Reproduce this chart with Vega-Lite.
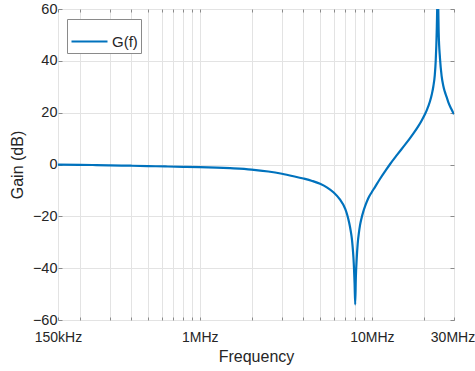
{
  "$schema": "https://vega.github.io/schema/vega-lite/v6.json",
  "autosize": "none",
  "width": 396,
  "height": 311,
  "padding": {"left": 58, "top": 9, "right": 21, "bottom": 51},
  "background": "white",
  "config": {
    "font": "Liberation Sans",
    "view": {"stroke": "#8a8a8a", "strokeWidth": 1},
    "axis": {"domain": false}
  },
  "data": {
    "values": [
      {"f": 150000, "g": -0.05, "series": "G(f)"},
      {"f": 200000, "g": -0.12, "series": "G(f)"},
      {"f": 250000, "g": -0.22, "series": "G(f)"},
      {"f": 300000, "g": -0.31, "series": "G(f)"},
      {"f": 400000, "g": -0.47, "series": "G(f)"},
      {"f": 500000, "g": -0.6, "series": "G(f)"},
      {"f": 630000, "g": -0.75, "series": "G(f)"},
      {"f": 800000, "g": -0.9, "series": "G(f)"},
      {"f": 1000000, "g": -1.0, "series": "G(f)"},
      {"f": 1250000, "g": -1.19, "series": "G(f)"},
      {"f": 1500000, "g": -1.43, "series": "G(f)"},
      {"f": 2000000, "g": -1.95, "series": "G(f)"},
      {"f": 2500000, "g": -2.7, "series": "G(f)"},
      {"f": 3000000, "g": -3.58, "series": "G(f)"},
      {"f": 3500000, "g": -4.52, "series": "G(f)"},
      {"f": 4000000, "g": -5.41, "series": "G(f)"},
      {"f": 4500000, "g": -6.34, "series": "G(f)"},
      {"f": 5000000, "g": -7.43, "series": "G(f)"},
      {"f": 5500000, "g": -8.9, "series": "G(f)"},
      {"f": 6000000, "g": -10.8, "series": "G(f)"},
      {"f": 6500000, "g": -13.4, "series": "G(f)"},
      {"f": 7000000, "g": -17.1, "series": "G(f)"},
      {"f": 7150000, "g": -18.9, "series": "G(f)"},
      {"f": 7293000, "g": -21.0, "series": "G(f)"},
      {"f": 7450000, "g": -23.8, "series": "G(f)"},
      {"f": 7562000, "g": -26.3, "series": "G(f)"},
      {"f": 7660000, "g": -29.0, "series": "G(f)"},
      {"f": 7735000, "g": -32.0, "series": "G(f)"},
      {"f": 7810000, "g": -35.8, "series": "G(f)"},
      {"f": 7871000, "g": -40.0, "series": "G(f)"},
      {"f": 7935000, "g": -46.0, "series": "G(f)"},
      {"f": 7998000, "g": -54.0, "series": "G(f)"},
      {"f": 8070000, "g": -43.5, "series": "G(f)"},
      {"f": 8160000, "g": -36.4, "series": "G(f)"},
      {"f": 8270000, "g": -30.5, "series": "G(f)"},
      {"f": 8400000, "g": -26.5, "series": "G(f)"},
      {"f": 8529000, "g": -23.5, "series": "G(f)"},
      {"f": 8700000, "g": -20.8, "series": "G(f)"},
      {"f": 8913000, "g": -18.2, "series": "G(f)"},
      {"f": 9200000, "g": -15.5, "series": "G(f)"},
      {"f": 9530000, "g": -13.0, "series": "G(f)"},
      {"f": 10000000, "g": -10.6, "series": "G(f)"},
      {"f": 10420000, "g": -8.7, "series": "G(f)"},
      {"f": 11140000, "g": -5.6, "series": "G(f)"},
      {"f": 12000000, "g": -2.4, "series": "G(f)"},
      {"f": 12740000, "g": 0.1, "series": "G(f)"},
      {"f": 14000000, "g": 3.7, "series": "G(f)"},
      {"f": 15220000, "g": 6.8, "series": "G(f)"},
      {"f": 16500000, "g": 9.8, "series": "G(f)"},
      {"f": 17400000, "g": 11.9, "series": "G(f)"},
      {"f": 18500000, "g": 14.5, "series": "G(f)"},
      {"f": 19470000, "g": 17.0, "series": "G(f)"},
      {"f": 20400000, "g": 19.6, "series": "G(f)"},
      {"f": 20820000, "g": 20.9, "series": "G(f)"},
      {"f": 21760000, "g": 24.4, "series": "G(f)"},
      {"f": 22300000, "g": 27.1, "series": "G(f)"},
      {"f": 22740000, "g": 30.0, "series": "G(f)"},
      {"f": 23200000, "g": 34.5, "series": "G(f)"},
      {"f": 23490000, "g": 40.0, "series": "G(f)"},
      {"f": 23800000, "g": 51.0, "series": "G(f)"},
      {"f": 24000000, "g": 64.0, "series": "G(f)"},
      {"f": 24120000, "g": 80.0, "series": "G(f)"},
      {"f": 24250000, "g": 64.0, "series": "G(f)"},
      {"f": 24440000, "g": 51.0, "series": "G(f)"},
      {"f": 24870000, "g": 41.0, "series": "G(f)"},
      {"f": 25440000, "g": 34.0, "series": "G(f)"},
      {"f": 25990000, "g": 30.4, "series": "G(f)"},
      {"f": 26500000, "g": 28.2, "series": "G(f)"},
      {"f": 27200000, "g": 26.0, "series": "G(f)"},
      {"f": 27790000, "g": 24.1, "series": "G(f)"},
      {"f": 28900000, "g": 21.5, "series": "G(f)"},
      {"f": 30000000, "g": 19.4, "series": "G(f)"}
    ]
  },
  "resolve": {"axis": {"x": "independent", "y": "independent"}},
  "layer": [
    {
      "mark": {"type": "line", "clip": true, "strokeWidth": 2.2, "interpolate": "monotone"},
      "encoding": {
        "x": {
          "field": "f", "type": "quantitative",
          "scale": {"type": "log", "domain": [150000, 30000000], "nice": false},
          "axis": {
            "orient": "bottom",
            "title": "Frequency",
            "titleFont": "Liberation Sans", "titleFontSize": 16, "titleFontWeight": "normal", "titleColor": "#262626", "titlePadding": 4,
            "values": [150000, 200000, 300000, 400000, 500000, 600000, 700000, 800000, 900000, 1000000, 2000000, 3000000, 4000000, 5000000, 6000000, 7000000, 8000000, 9000000, 10000000, 20000000, 30000000],
            "labelExpr": "datum.value == 150000 ? '150kHz' : datum.value == 1000000 ? '1MHz' : datum.value == 10000000 ? '10MHz' : datum.value == 30000000 ? '30MHz' : ''",
            "labelFont": "Liberation Sans", "labelFontSize": 14, "labelColor": "#262626", "labelPadding": 13, "labelOverlap": false, "labelFlush": false,
            "labelOffset": {"condition": {"test": "datum.value == 30000000", "value": -1.5}, "value": 0},
            "tickSize": -3, "tickColor": "#8a8a8a",
            "grid": true, "gridColor": "#e3e3e3", "gridWidth": 1
          }
        },
        "y": {
          "field": "g", "type": "quantitative",
          "scale": {"domain": [-60, 60], "nice": false},
          "axis": {
            "orient": "left",
            "title": "Gain (dB)",
            "titleFont": "Liberation Sans", "titleFontSize": 16, "titleFontWeight": "normal", "titleColor": "#262626", "titlePadding": 7,
            "values": [-60, -40, -20, 0, 20, 40, 60],
            "labelFont": "Liberation Sans", "labelFontSize": 14.5, "labelColor": "#262626", "labelPadding": 5,
            "tickSize": -4, "tickColor": "#8a8a8a",
            "grid": true, "gridColor": "#e3e3e3", "gridWidth": 1
          }
        },
        "color": {
          "field": "series", "type": "nominal",
          "scale": {"range": ["#0072BD"]},
          "legend": {
            "title": null,
            "orient": "none", "legendX": 9, "legendY": 10,
            "symbolType": "stroke", "symbolStrokeWidth": 2.2, "symbolSize": 1296,
            "labelFont": "Liberation Sans", "labelFontSize": 15, "labelColor": "#262626", "labelOffset": 3,
            "strokeColor": "#8a8a8a", "fillColor": "white", "padding": 3
          }
        }
      }
    },
    {
      "mark": {"type": "point", "opacity": 0},
      "encoding": {
        "x": {
          "field": "f", "type": "quantitative",
          "scale": {"type": "log", "domain": [150000, 30000000], "nice": false},
          "axis": {
            "orient": "top", "title": null, "labels": false, "grid": false,
            "values": [150000, 200000, 300000, 400000, 500000, 600000, 700000, 800000, 900000, 1000000, 2000000, 3000000, 4000000, 5000000, 6000000, 7000000, 8000000, 9000000, 10000000, 20000000, 30000000],
            "tickSize": -3, "tickColor": "#8a8a8a"
          }
        },
        "y": {
          "field": "g", "type": "quantitative",
          "scale": {"domain": [-60, 60], "nice": false},
          "axis": {
            "orient": "right", "title": null, "labels": false, "grid": false,
            "values": [-60, -40, -20, 0, 20, 40, 60],
            "tickSize": -4, "tickColor": "#8a8a8a"
          }
        }
      }
    }
  ]
}
